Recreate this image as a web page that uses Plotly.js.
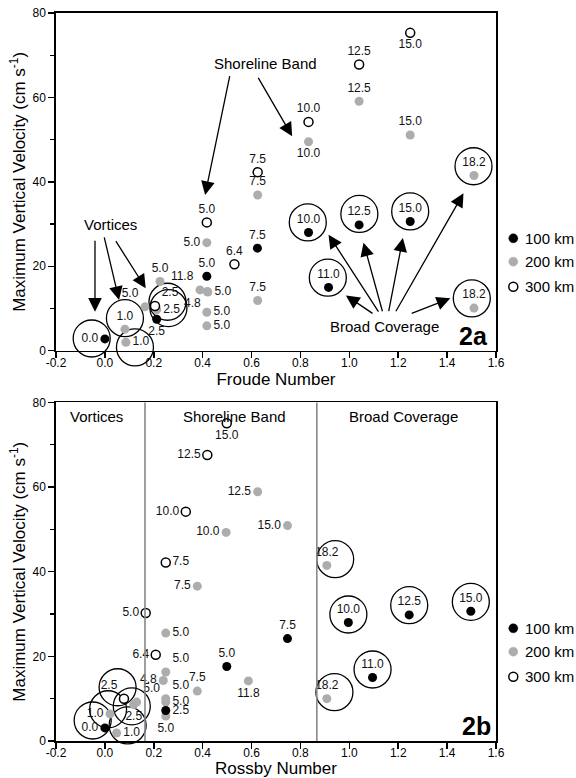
<!DOCTYPE html>
<html><head><meta charset="utf-8">
<script src="https://cdn.plot.ly/plotly-3.0.1.min.js"></script>
<style>html,body{margin:0;padding:0;background:#fff}#chart{width:576px;height:778px}</style>
</head><body><div id="chart"></div>
<script>
// ---------- Panel 2a : Froude number ----------
const fr100X = [0.624, 0.417, 0.212, 0.000, 0.833, 1.040, 1.249, 0.915];
const fr100V = [24.3, 17.65, 7.45, 2.8, 28.0, 29.8, 30.6, 15.0];
const fr100L = ['7.5','5.0','2.5','0.0','10.0','12.5','15.0','11.0'];
const fr100P = ['top center','top center','bottom center','middle left','top center','top center','top center','top center'];

const fr200X = [1.040, 0.833, 1.249, 0.625, 0.417, 0.2255, 0.389, 0.419, 0.421, 0.417, 0.417, 0.625, 0.164, 0.212, 0.082, 0.086, 1.510, 1.510];
const fr200V = [59.1, 49.5, 51.1, 36.9, 25.6, 16.4, 14.4, 14.0, 13.9, 9.1, 5.9, 11.9, 10.4, 9.7, 5.1, 2.0, 41.5, 10.1];
const fr200L = ['12.5','10.0','15.0','7.5','5.0','5.0','11.8','4.8','5.0','5.0','5.0','7.5','5.0','2.5','1.0','1.0','18.2','18.2'];
const fr200P = ['top center','bottom center','top center','top center','middle left','top center','top left','bottom left','middle right','middle right','middle right','top center','top left','middle right','top center','middle right','top center','top center'];

const fr300X = [1.249, 1.040, 0.833, 0.625, 0.417, 0.530, 0.205];
const fr300V = [75.3, 67.8, 54.2, 42.3, 30.4, 20.5, 10.6];
const fr300L = ['15.0','12.5','10.0','7.5','5.0','6.4','2.5'];
const fr300P = ['bottom center','top center','top center','top center','top center','top center','top right'];

const ringFrX = [-0.054, 0.082, 0.123, 0.256, 0.260, 0.830, 1.041, 1.249, 0.912, 1.501, 1.508];
const ringFrV = [2.9, 7.7, 0.8, 11.6, 10.1, 30.4, 32.4, 33.0, 17.3, 12.4, 43.7];

// arrows [tailX, tailY, tipX, tipY]
const arrowsFr = [
  [0.512, 65.4, 0.410, 36.9], [0.624, 65.0, 0.766, 50.8],
  [-0.0405, 26.4, -0.0405, 9.25], [-0.004, 27.2, 0.058, 12.0], [0.041, 26.3, 0.167, 14.8],
  [1.101, 8.6, 0.986, 13.1], [1.123, 8.9, 0.915, 27.5], [1.137, 9.0, 1.058, 25.6],
  [1.160, 9.0, 1.219, 26.7], [1.187, 9.0, 1.467, 37.3], [1.249, 8.7, 1.413, 12.4]
];
const regionNamesFr = ['Shoreline Band','Vortices','Broad Coverage'];
const regionFrX = [0.655, 0.021, 1.142];
const regionFrV = [68.0, 29.8, 5.7];

// ---------- Panel 2b : Rossby number ----------
const ro100X = [0.747, 0.4986, 0.249, 0.000, 0.996, 1.245, 1.497, 1.095];
const ro100V = [24.2, 17.6, 7.2, 3.1, 28.0, 29.8, 30.65, 15.0];
const ro100L = ['7.5','5.0','2.5','0.0','10.0','12.5','15.0','11.0'];
const ro100P = ['top center','top center','middle right','middle left','top center','top center','top center','top center'];

const ro200X = [0.625, 0.496, 0.747, 0.378, 0.249, 0.249, 0.239, 0.378, 0.587, 0.249, 0.249, 0.249, 0.130, 0.118, 0.021, 0.048, 0.908, 0.908];
const ro200V = [58.9, 49.3, 50.9, 36.6, 25.5, 16.3, 14.3, 11.8, 14.2, 10.0, 9.2, 5.9, 9.2, 8.6, 6.4, 1.9, 41.5, 10.0];
const ro200L = ['12.5','10.0','15.0','7.5','5.0','5.0','4.8','7.5','11.8','5.0','5.0','5.0','5.0','2.5','1.0','1.0','18.2','18.2'];
const ro200P = ['middle left','middle left','middle left','middle left','middle right','top right','middle left','top center','bottom center','top right','middle right','bottom center','top right','bottom center','middle left','middle right','top center','top center'];

const ro300X = [0.4986, 0.419, 0.331, 0.249, 0.167, 0.208, 0.078];
const ro300V = [75.1, 67.6, 54.2, 42.2, 30.25, 20.4, 10.0];
const ro300L = ['15.0','12.5','10.0','7.5','5.0','6.4','2.5'];
const ro300P = ['bottom center','middle left','middle left','middle right','middle left','middle left','top left'];

const ringRoX = [0.052, 0.013, 0.110, -0.050, 0.093, 0.939, 1.095, 0.996, 1.245, 1.497, 0.942];
const ringRoV = [12.7, 7.5, 8.2, 4.85, 3.7, 11.55, 16.9, 29.9, 32.1, 32.9, 42.96];

const regionBoundsRo = [0.164, 0.867];
const regionNamesRo = ['Vortices','Shoreline Band','Broad Coverage'];
const regionRoX = [-0.035, 0.530, 1.222];
const regionRoV = [76.8, 76.8, 76.8];

// axes ticks
const xTickVals = [-0.2, 0.0, 0.2, 0.4, 0.6, 0.8, 1.0, 1.2, 1.4, 1.6];
const xTickText = ['-0.2','0.0','0.2','0.4','0.6','0.8','1.0','1.2','1.4','1.6'];
const yTickVals = [0, 20, 40, 60, 80];
const yTickText = ['0','20','40','60','80'];

const seriesNames = ['100 km','200 km','300 km'];

// ---------- styles ----------
const FONT = 'Arial, "Liberation Sans", Helvetica, sans-serif';
const GRAY = '#adadad';
const labelFont = {family: FONT, size: 12, color: '#111'};

function ptTrace(x, y, t, p, kind, xa, ya) {
  const m = kind === 0 ? {color: '#000', size: 9}
          : kind === 1 ? {color: GRAY, size: 9}
          : {color: '#fff', size: 9, line: {color: '#000', width: 1.5}};
  return {type: 'scatter', mode: 'markers+text', x: x, y: y, text: t, textposition: p,
    textfont: labelFont, marker: m, xaxis: xa, yaxis: ya, showlegend: false,
    cliponaxis: false, hoverinfo: 'skip'};
}
function ringTrace(x, y, xa, ya) {
  return {type: 'scatter', mode: 'markers', x: x, y: y, xaxis: xa, yaxis: ya,
    marker: {symbol: 'circle-open', size: 37, color: '#000', line: {width: 1.3, color: '#000'}},
    showlegend: false, cliponaxis: false, hoverinfo: 'skip'};
}

const data = [
  ringTrace(ringFrX, ringFrV, 'x', 'y'),
  ptTrace(fr200X, fr200V, fr200L, fr200P, 1, 'x', 'y'),
  ptTrace(fr100X, fr100V, fr100L, fr100P, 0, 'x', 'y'),
  ptTrace(fr300X, fr300V, fr300L, fr300P, 2, 'x', 'y'),
  ringTrace(ringRoX, ringRoV, 'x2', 'y2'),
  ptTrace(ro200X, ro200V, ro200L, ro200P, 1, 'x2', 'y2'),
  ptTrace(ro100X, ro100V, ro100L, ro100P, 0, 'x2', 'y2'),
  ptTrace(ro300X, ro300V, ro300L, ro300P, 2, 'x2', 'y2')
];

function xAxis(title, anchor) {
  return {range: [-0.2, 1.6], tickvals: xTickVals, ticktext: xTickText, anchor: anchor,
    ticks: 'outside', ticklen: 6, tickwidth: 1.5, tickcolor: '#000', ticklabelstandoff: -6,
    showline: true, mirror: true, linewidth: 1.7, linecolor: '#000',
    showgrid: false, zeroline: false, tickfont: {family: FONT, size: 12, color: '#000'},
    title: {text: title, font: {family: FONT, size: 17, color: '#000'}, standoff: 2}};
}
function yAxis(domain, anchor) {
  return {range: [0, 80], domain: domain, anchor: anchor, tickvals: yTickVals, ticktext: yTickText,
    ticks: 'outside', ticklen: 6, tickwidth: 1.5, tickcolor: '#000', automargin: 'left',
    minor: {dtick: 10, tick0: 0, ticks: 'outside', ticklen: 4, tickwidth: 1.2, tickcolor: '#000', showgrid: false},
    showline: true, mirror: true, linewidth: 1.7, linecolor: '#000',
    showgrid: false, zeroline: false, tickfont: {family: FONT, size: 12, color: '#000'},
    title: {text: 'Maximum Vertical Velocity (cm s<sup>-1</sup>)', font: {family: FONT, size: 17, color: '#000'}, standoff: 2}};
}

const annotations = [];
arrowsFr.forEach(a => annotations.push({xref: 'x', yref: 'y', axref: 'x', ayref: 'y',
  ax: a[0], ay: a[1], x: a[2], y: a[3], text: '', showarrow: true,
  arrowhead: 2, arrowsize: 2.1, arrowwidth: 1.3, arrowcolor: '#000', standoff: 0, startstandoff: 0}));
regionNamesFr.forEach((n, i) => annotations.push({xref: 'x', yref: 'y', x: regionFrX[i], y: regionFrV[i],
  text: n, showarrow: false, font: {family: FONT, size: 15, color: '#000'}}));
regionNamesRo.forEach((n, i) => annotations.push({xref: 'x2', yref: 'y2', x: regionRoX[i], y: regionRoV[i],
  text: n, showarrow: false, font: {family: FONT, size: 15, color: '#000'}}));
annotations.push({xref: 'x domain', yref: 'y domain', x: 0.987, y: 0.045, xanchor: 'right', yanchor: 'middle',
  text: '<b>2a</b>', showarrow: false, font: {family: FONT, size: 25, color: '#000'}});
annotations.push({xref: 'x2 domain', yref: 'y2 domain', x: 0.994, y: 0.045, xanchor: 'right', yanchor: 'middle',
  text: '<b>2b</b>', showarrow: false, font: {family: FONT, size: 25, color: '#000'}});

// legends (one per panel), built from seriesNames
const legendRowsTop = [0.6905, 0.6584, 0.624];
const legendRowsBot = [0.1548, 0.1227, 0.0883];
const shapes = [];
regionBoundsRo.forEach(b => shapes.push({type: 'line', xref: 'x2', yref: 'y2 domain', x0: b, x1: b, y0: 0, y1: 1,
  line: {color: '#888', width: 1.6}}));
[legendRowsTop, legendRowsBot].forEach(rows => {
  seriesNames.forEach((n, i) => {
    const fill = i === 0 ? '#000' : i === 1 ? GRAY : '#fff';
    const lc = i === 1 ? GRAY : '#000';
    shapes.push({type: 'circle', xref: 'paper', yref: 'paper', xsizemode: 'pixel', ysizemode: 'pixel',
      xanchor: 1.0393, yanchor: rows[i], x0: -4.5, x1: 4.5, y0: -4.5, y1: 4.5,
      fillcolor: fill, line: {color: lc, width: i === 2 ? 1.5 : 0.5}});
    annotations.push({xref: 'paper', yref: 'paper', x: 1.0614, y: rows[i], xanchor: 'left', yanchor: 'middle',
      text: n, showarrow: false, font: {family: FONT, size: 15, color: '#000'}});
  });
});

const layout = {
  width: 576, height: 778, margin: {l: 56, r: 80, t: 13, b: 37},
  paper_bgcolor: '#fff', plot_bgcolor: '#fff', showlegend: false,
  font: {family: FONT, color: '#000'},
  xaxis: xAxis('Froude Number', 'y'),
  yaxis: yAxis([0.5361, 1], 'x'),
  xaxis2: xAxis('Rossby Number', 'y2'),
  yaxis2: yAxis([0, 0.465], 'x2'),
  annotations: annotations, shapes: shapes
};
Plotly.newPlot('chart', data, layout, {displayModeBar: false, staticPlot: true});
</script></body></html>
